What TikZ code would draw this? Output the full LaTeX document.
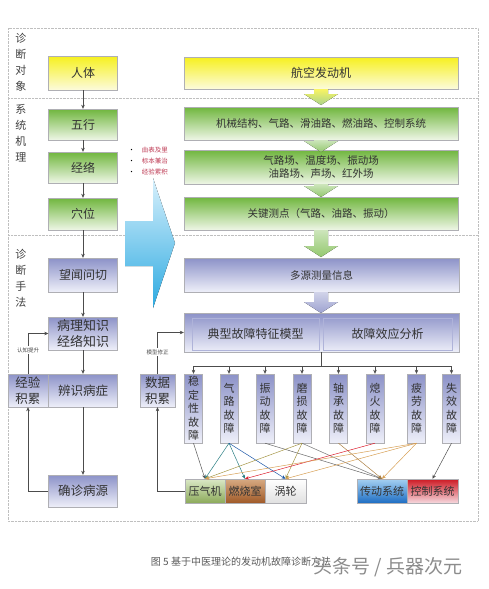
\documentclass[tikz,border=0pt]{standalone}
\usepackage{fontspec}
\setmainfont{Noto Sans CJK SC}
\usetikzlibrary{arrows.meta}

\definecolor{boxline}{RGB}{175,175,180}
\definecolor{yeltop}{RGB}{246,240,30}
\definecolor{yelbot}{RGB}{252,251,220}
\definecolor{grntop}{RGB}{112,182,62}
\definecolor{grnbot}{RGB}{238,246,230}
\definecolor{lavtop}{RGB}{140,146,200}
\definecolor{lavbot}{RGB}{238,239,249}
\definecolor{calltop}{RGB}{215,240,252}
\definecolor{callbot}{RGB}{45,170,225}
\definecolor{notered}{RGB}{190,60,85}
\definecolor{tealc}{RGB}{40,125,130}
\definecolor{olivec}{RGB}{165,150,70}
\definecolor{tanc}{RGB}{215,160,85}
\definecolor{redc}{RGB}{220,30,45}

\tikzset{
  box/.style={draw=boxline, inner sep=0pt, text=black!80, font=\fontsize{12}{15}\selectfont},
  yelbox/.style={box, top color=yeltop, bottom color=yelbot},
  grnbox/.style={box, top color=grntop, bottom color=grnbot},
  lavbox/.style={box, top color=lavtop, bottom color=lavbot},
  leftbox/.style={minimum width=69pt, minimum height=33pt, align=center},
  rightbox/.style={minimum width=274pt, minimum height=33pt, align=center, font=\fontsize{10.5}{13}\selectfont},
  faultbox/.style={lavbox, minimum width=18pt, minimum height=69pt, align=center, font=\fontsize{11}{13.5}\selectfont},
  partbox/.style={box, minimum height=24pt, font=\fontsize{11}{13}\selectfont},
  sectlabel/.style={align=center, text=black!75, font=\fontsize{11}{16}\selectfont},
  looplabel/.style={fill=white, inner sep=1pt, text=black!70, font=\fontsize{5.5}{6}\selectfont},
  notes/.style={align=left, text=notered, font=\fontsize{6.5}{11}\selectfont},
  flow/.style={draw=black!70, -{Stealth[length=4pt,width=3.5pt]}},
  mapline/.style={#1, -{Stealth[length=4pt,width=3.5pt]}, line width=0.5pt},
  frame/.style={draw=black!25, densely dotted},
  yarrow/.style={top color=yeltop!70!white, bottom color=grntop!60!white},
  garrow/.style={top color=grntop!35!white, bottom color=grntop!75!white},
  larrow/.style={top color=lavtop!40!white, bottom color=lavtop!85!white},
}

\def\blockarrow[#1](#2:#3:#4){\fill[#1] (#2-7,#3) -- (#2+7,#3) -- (#2+7,#4-11) -- (#2+17,#4-11) -- (#2,#4) -- (#2-17,#4-11) -- (#2-7,#4-11) -- cycle;}

\begin{document}
\begin{tikzpicture}[x=1pt, y=-1pt]
		%%%%% START %%%%%
		\useasboundingbox (0,0) rectangle (489,589);
		
		\draw[frame] (8,28) rectangle (478,521);
		\draw[frame] (8,98) -- (478,98);
		\draw[frame] (8,235) -- (478,235);
		
		\node[sectlabel] (sect1) at (21,62.5) {诊\\断\\对\\象};
		\node[sectlabel] (sect2) at (21,133.5) {系\\统\\机\\理};
		\node[sectlabel] (sect3) at (21,278) {诊\\断\\手\\法};
		
		% left column
		\node[yelbox, leftbox, minimum height=34pt] (renti) at (83,73) {人体};
		\node[grnbox, leftbox, minimum height=31pt] (wuxing) at (83,124.5) {五行};
		\node[grnbox, leftbox, minimum height=31pt] (jingluo) at (83,167.5) {经络};
		\node[grnbox, leftbox, minimum height=32pt] (xuewei) at (83,214) {穴位};
		\node[lavbox, leftbox, minimum height=34pt] (wangwen) at (83,275) {望闻问切};
		\node[lavbox, leftbox, font=\fontsize{13}{16}\selectfont] (bingli) at (83,333.5) {病理知识\\经络知识};
		\node[lavbox, leftbox, font=\fontsize{12.5}{15}\selectfont] (bianshi) at (83,390.5) {辨识病症};
		\node[lavbox, minimum width=40pt, minimum height=33pt, align=center, font=\fontsize{12.5}{16}\selectfont] (jingyan) at (28,390.5) {经验\\积累};
		\node[lavbox, leftbox, minimum height=32pt, font=\fontsize{12.5}{15}\selectfont] (quezhen) at (83,491) {确诊病源};
		
		\draw[flow] (renti) -- (wuxing);
		\draw[flow] (wuxing) -- (jingluo);
		\draw[flow] (jingluo) -- (xuewei);
		\draw[flow] (xuewei) -- (wangwen);
		\draw[flow] (wangwen) -- (bingli);
		\draw[flow] (bingli) -- (bianshi);
		\draw[flow] (bianshi) -- (quezhen);
		\draw[flow] (quezhen.west) -| (jingyan.south);
		\draw[flow] (jingyan.north) |- (bingli.west);
		\node[looplabel] (tisheng) at (28,350) {认知提升};
		
		% callout
		\node[notes] (notes) at (148,161) {\textcolor{black}{•}\hspace{7pt}由表及里\\\textcolor{black}{•}\hspace{7pt}标本兼治\\\textcolor{black}{•}\hspace{7pt}经验累积};
		\fill[top color=calltop, bottom color=callbot] (125,221) -- (153,221) -- (153,178) -- (175,243) -- (153,308) -- (153,266) -- (125,266) -- cycle;
		
		% right column
		\node[yelbox, rightbox, minimum height=32pt, font=\fontsize{12}{15}\selectfont] (hangkong) at (321,73) {航空发动机};
		\node[grnbox, rightbox] (jixie) at (321,123.5) {机械结构、气路、滑油路、燃油路、控制系统};
		\node[grnbox, rightbox, minimum height=34pt] (qilu) at (321,167) {气路场、温度场、振动场\\油路场、声场、红外场};
		\node[grnbox, rightbox] (guanjian) at (321,213.5) {关键测点（气路、油路、振动）};
		\node[lavbox, rightbox, minimum width=275pt, minimum height=34pt] (duoyuan) at (321.5,275) {多源测量信息};
		\node[lavbox, minimum width=275pt, minimum height=39pt] (model) at (321.5,332.5) {};
		\node[box, draw=lavtop!70, minimum width=127pt, minimum height=32pt] (dianxing) at (255.5,334) {典型故障特征模型};
		\node[box, draw=lavtop!70, minimum width=129pt, minimum height=32pt] (xiaoying) at (387.5,334) {故障效应分析};
		
		\blockarrow[yarrow](321:89:105)
		\blockarrow[garrow](321:140:152)
		\blockarrow[garrow](321:184:197)
		\blockarrow[garrow](321:230:257)
		\blockarrow[larrow](321:292:313)
		
		\node[lavbox, minimum width=35pt, minimum height=33pt, align=center, font=\fontsize{12.5}{16}\selectfont] (shuju) at (157.5,390.5) {数据\\积累};
		
		% faults
		\node[faultbox] (f1) at (193.5,408.5) {稳\\定\\性\\故\\障};
		\node[faultbox] (f2) at (229,408.5) {气\\路\\故\\障};
		\node[faultbox] (f3) at (265,408.5) {振\\动\\故\\障};
		\node[faultbox] (f4) at (302,408.5) {磨\\损\\故\\障};
		\node[faultbox] (f5) at (338.5,408.5) {轴\\承\\故\\障};
		\node[faultbox] (f6) at (375,408.5) {熄\\火\\故\\障};
		\node[faultbox] (f7) at (416.5,408.5) {疲\\劳\\故\\障};
		\node[faultbox] (f8) at (451.5,408.5) {失\\效\\故\\障};
		
		\coordinate (bus) at (321.5,366);
		\draw[draw=black!70] (model.south) -- (bus);
		\draw[draw=black!70] (f1.north |- bus) -- (f8.north |- bus);
		\draw[flow] (f1.north |- bus) -- (f1.north);
		\draw[flow] (f2.north |- bus) -- (f2.north);
		\draw[flow] (f3.north |- bus) -- (f3.north);
		\draw[flow] (f4.north |- bus) -- (f4.north);
		\draw[flow] (f5.north |- bus) -- (f5.north);
		\draw[flow] (f6.north |- bus) -- (f6.north);
		\draw[flow] (f7.north |- bus) -- (f7.north);
		\draw[flow] (f8.north |- bus) -- (f8.north);
		
		% parts
		\node[partbox, minimum width=40pt, top color={rgb,255:red,218;green,232;blue,198}, bottom color={rgb,255:red,140;green,170;blue,90}] (yaqiji) at (205,491) {压气机};
		\node[partbox, minimum width=40pt, top color={rgb,255:red,215;green,170;blue,130}, bottom color={rgb,255:red,160;green,90;blue,40}] (ranshao) at (245,491) {燃烧室};
		\node[partbox, minimum width=41pt, top color=white, bottom color=black!12] (wolun) at (285.5,491) {涡轮};
		\node[partbox, minimum width=50pt, top color={rgb,255:red,165;green,208;blue,242}, bottom color={rgb,255:red,30;green,110;blue,195}] (chuandong) at (382,491) {传动系统};
		\node[partbox, minimum width=51pt, top color={rgb,255:red,205;green,25;blue,35}, bottom color={rgb,255:red,246;green,216;blue,222}] (kongzhi) at (432.5,491) {控制系统};
		
		\draw[flow] (yaqiji.west) -| (shuju.south);
		\draw[flow] (shuju.north) |- (model.west);
		\node[looplabel] (xiuzheng) at (157.5,352) {模型修正};
		
		\draw[mapline=black!65] (f1.south) -- (yaqiji.north);
		\draw[mapline=tealc] (f2.south) -- (yaqiji.north);
		\draw[mapline=tealc] (f2.south) -- (ranshao.north);
		\draw[mapline=tealc!70!blue] (f2.south) -- (wolun.north);
		\draw[mapline=black!60] (f3.south) -- (chuandong.north);
		\draw[mapline=olivec] (f4.south) -- (yaqiji.north);
		\draw[mapline=olivec] (f4.south) -- (wolun.north);
		\draw[mapline=black!55] (f4.south) -- (chuandong.north);
		\draw[mapline=tanc!80!black] (f5.south) -- (chuandong.north);
		\draw[mapline=redc] (f6.south) -- (ranshao.north);
		\draw[mapline=tanc] (f7.south) -- (yaqiji.north);
		\draw[mapline=tanc] (f7.south) -- (wolun.north);
		\draw[mapline=tanc] (f7.south) -- (chuandong.north);
		\draw[mapline=black!70] (f8.south) -- (kongzhi.north);
		
		% caption
		\node[text=black!65, font=\fontsize{10}{12}\selectfont] (caption) at (241,562) {图 5 基于中医理论的发动机故障诊断方法};
		\node[text=black!45, font=\fontsize{19}{22}\selectfont] (mark) at (388,567) {头条号 / 兵器次元};
		
		%%%%% END %%%%%
\end{tikzpicture}
\end{document}
